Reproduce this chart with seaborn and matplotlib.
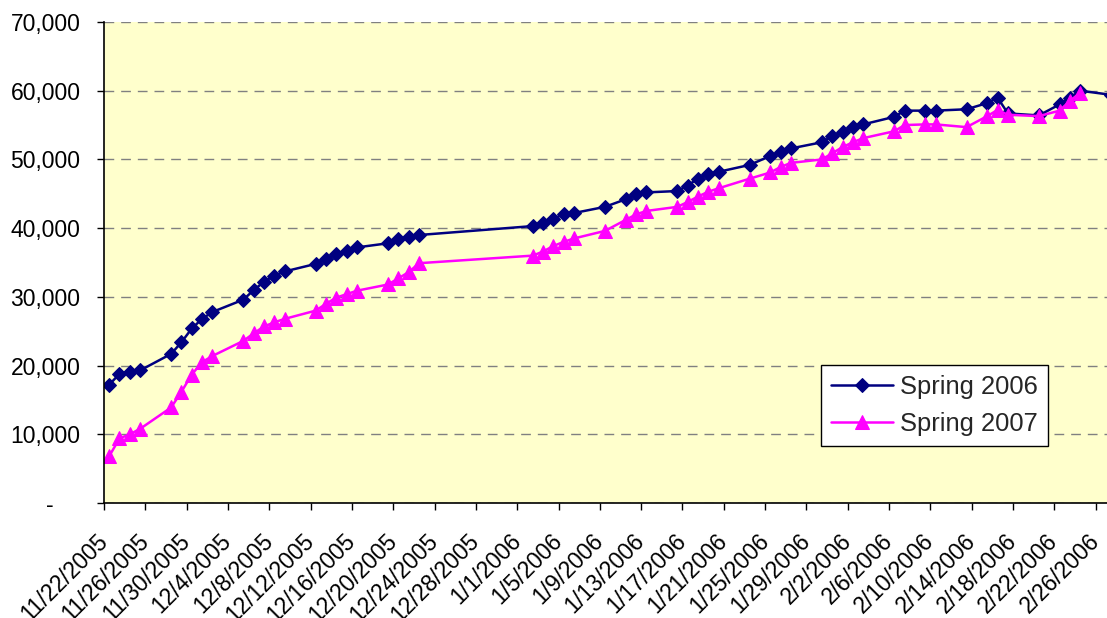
import numpy as np
import pandas as pd
import matplotlib
matplotlib.use("Agg")
import matplotlib.pyplot as plt
import matplotlib.transforms as mtransforms
from matplotlib.ticker import FuncFormatter, FixedLocator
import seaborn as sns

# ---------------- data ----------------
start_date = "2005-11-22"
day_offsets = [0, 1, 2, 3, 6, 7, 8, 9, 10, 13, 14, 15, 16, 17, 20, 21, 22, 23, 24,
               27, 28, 29, 30, 41, 42, 43, 44, 45, 48, 50, 51, 52, 55, 56, 57, 58, 59,
               62, 64, 65, 66, 69, 70, 71, 72, 73, 76, 77, 79, 80, 83, 85, 86, 87,
               90, 92, 93, 94, 97]

spring_2006 = [17200, 18800, 19100, 19300, 21700, 23400, 25400, 26800, 27800,
               29600, 31000, 32200, 33100, 33700, 34800, 35500, 36200, 36700, 37200,
               37800, 38400, 38700, 39000, 40300, 40700, 41400, 42000, 42200, 43100,
               44200, 44900, 45200, 45400, 46200, 47200, 47900, 48200, 49200, 50500,
               51100, 51600, 52500, 53400, 54000, 54700, 55100, 56200, 57100, 57100,
               57100, 57300, 58200, 59000, 56700, 56400, 58000, 59000, 60000, 59400]

spring_2007 = [6800, 9400, 10000, 10800, 13900, 16200, 18700, 20500, 21400,
               23600, 24700, 25700, 26300, 26800, 28000, 29000, 29900, 30400, 30900,
               31800, 32700, 33600, 34900, 36000, 36600, 37400, 38000, 38500, 39600,
               41200, 42000, 42500, 43100, 43800, 44600, 45300, 45800, 47200, 48100,
               48900, 49500, 50000, 50900, 51800, 52500, 53100, 54100, 55000, 55100,
               55100, 54700, 56300, 57200, 56500, 56300, 57100, 58500, 59700, np.nan]

series_names = ["Spring 2006", "Spring 2007"]
y_ticks = [0, 10000, 20000, 30000, 40000, 50000, 60000, 70000]
x_tick_start, x_tick_end = "2005-11-22", "2006-02-26"
x_axis_end = "2006-03-02"

# points sit in the middle of each day slot (date-axis style)
dates = pd.Timestamp(start_date) + pd.to_timedelta(day_offsets, unit="D") + pd.Timedelta(hours=12)
tick_dates = pd.date_range(x_tick_start, x_tick_end, freq="4D")

# ---------------- style ----------------
sns.set_theme(style="white")
plt.rcParams["font.family"] = ["Liberation Sans", "DejaVu Sans"]

W, H = 1107, 618
fig = plt.figure(figsize=(W / 100, H / 100), dpi=100)
fig.patch.set_facecolor("white")
ax = fig.add_axes([104 / W, (H - 503) / H, (1137 - 104) / W, (503 - 22) / H])
ax.set_facecolor("#FFFFCC")

sns.lineplot(x=dates, y=spring_2006, ax=ax, color="#000080", linewidth=1.8,
             marker="D", markersize=7, markeredgecolor="#000080",
             markerfacecolor="#000080", label=series_names[0])
sns.lineplot(x=dates, y=spring_2007, ax=ax, color="#FF00FF", linewidth=1.8,
             marker="^", markersize=10, markeredgecolor="#FF00FF",
             markerfacecolor="#FF00FF", label=series_names[1])

ax.set_xlim(pd.Timestamp(x_tick_start), pd.Timestamp(x_axis_end))
ax.set_ylim(y_ticks[0], y_ticks[-1])

# y axis
ax.yaxis.set_major_locator(FixedLocator(y_ticks))
ax.yaxis.set_major_formatter(FuncFormatter(lambda v, p: "-" if v == 0 else f"{int(v):,}"))
ax.yaxis.grid(True, color="#808080", linestyle=(0, (7, 5)), linewidth=1.0)
ax.xaxis.grid(False)
ax.set_axisbelow(True)

# x axis
ax.set_xticks(tick_dates)
ax.set_xticklabels([f"{d.month}/{d.day}/{d.year}" for d in tick_dates])

ax.tick_params(axis="both", which="major", direction="out", length=5, width=1,
               color="black", labelcolor="black", labelsize=16.5)
ax.tick_params(axis="y", left=True, pad=12)
ax.tick_params(axis="x", bottom=True, pad=20)
for lbl in ax.get_xticklabels():
    lbl.set_rotation(45)
    lbl.set_ha("right")
    lbl.set_va("center")
    lbl.set_rotation_mode("anchor")

for s in ["top", "right"]:
    ax.spines[s].set_visible(False)
for s in ["left", "bottom"]:
    ax.spines[s].set_color("black")
    ax.spines[s].set_linewidth(1.2)

ax.set_xlabel("")
ax.set_ylabel("")

# shift the "-" zero label left like accounting format
zero_lbl = ax.yaxis.get_major_ticks()[0].label1
zero_lbl.set_transform(zero_lbl.get_transform() +
                       mtransforms.ScaledTranslation(-27 / 100, 0, fig.dpi_scale_trans))

leg = ax.legend(loc="upper left", bbox_to_anchor=(821 / W, 1 - 365 / H),
                bbox_transform=fig.transFigure, frameon=True, fancybox=False,
                edgecolor="black", facecolor="white", framealpha=1, fontsize=18.4,
                borderpad=0.4, labelspacing=0.5, handlelength=2.4,
                handletextpad=0.3, borderaxespad=0)
leg.get_frame().set_linewidth(1.0)

fig.savefig("out.png", dpi=100)
